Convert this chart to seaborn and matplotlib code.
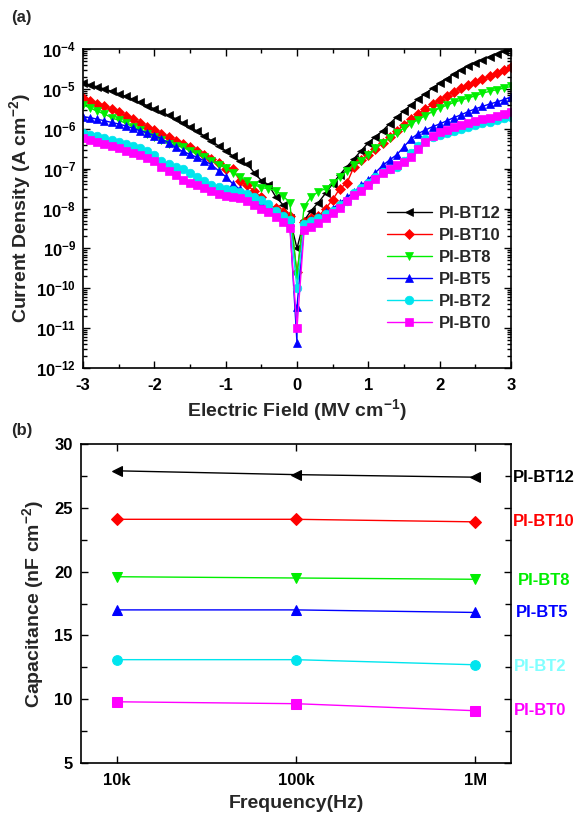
import numpy as np
import pandas as pd
import matplotlib
matplotlib.use("Agg")
import matplotlib.pyplot as plt
import seaborn as sns
from matplotlib.ticker import LogLocator, MultipleLocator, NullFormatter

# ---------------- data (a): J-E curves, log10 of current density ----------------
field = [-3.0, -2.9, -2.8, -2.7, -2.6, -2.5, -2.4, -2.3, -2.2, -2.1,
         -2.0, -1.9, -1.8, -1.7, -1.6, -1.5, -1.4, -1.3, -1.2, -1.1,
         -1.0, -0.9, -0.8, -0.7, -0.6, -0.5, -0.4, -0.3, -0.2, -0.1,
         0.0, 0.1, 0.2, 0.3, 0.4, 0.5, 0.6, 0.7, 0.8, 0.9,
         1.0, 1.1, 1.2, 1.3, 1.4, 1.5, 1.6, 1.7, 1.8, 1.9,
         2.0, 2.1, 2.2, 2.3, 2.4, 2.5, 2.6, 2.7, 2.8, 2.9, 3.0]

field_bt5 = [-3.0, -2.9, -2.8, -2.7, -2.6, -2.5, -2.4, -2.3, -2.2, -2.1,
             -2.0, -1.9, -1.8, -1.7, -1.6, -1.5, -1.4, -1.3, -1.2, -1.1,
             -1.0, -0.9, -0.8, -0.7, -0.6, -0.5, -0.4, -0.3, -0.2, -0.1,
             0.0, 0.0, 0.1, 0.2, 0.3, 0.4, 0.5, 0.6, 0.7, 0.8, 0.9,
             1.0, 1.1, 1.2, 1.3, 1.4, 1.5, 1.6, 1.7, 1.8, 1.9,
             2.0, 2.1, 2.2, 2.3, 2.4, 2.5, 2.6, 2.7, 2.8, 2.9, 3.0]

logj_bt12 = [-4.85, -4.90, -4.95, -5.00, -5.06, -5.12, -5.19, -5.26, -5.34, -5.42,
             -5.50, -5.58, -5.66, -5.75, -5.85, -5.95, -6.06, -6.18, -6.30, -6.43,
             -6.55, -6.68, -6.82, -6.88, -7.10, -7.30, -7.40, -7.70, -7.90, -8.25,
             -9.00, -8.30, -8.05, -7.85, -7.62, -7.38, -7.15, -6.95, -6.75, -6.55,
             -6.35, -6.20, -6.05, -5.87, -5.70, -5.55, -5.40, -5.25, -5.12, -4.98,
             -4.86, -4.74, -4.62, -4.52, -4.43, -4.34, -4.27, -4.19, -4.12, -4.06, -4.01]

logj_bt10 = [-5.23, -5.30, -5.37, -5.44, -5.51, -5.59, -5.67, -5.76, -5.86, -5.95,
             -6.04, -6.12, -6.21, -6.30, -6.38, -6.46, -6.56, -6.66, -6.76, -6.86,
             -7.00, -7.02, -7.30, -7.42, -7.56, -7.72, -7.95, -7.98, -8.08, -8.20,
             -9.60, -8.35, -8.25, -8.20, -8.00, -7.78, -7.50, -7.36, -6.95, -6.78,
             -6.65, -6.52, -6.35, -6.21, -6.06, -5.90, -5.76, -5.62, -5.50, -5.38,
             -5.28, -5.17, -5.07, -4.98, -4.90, -4.83, -4.76, -4.68, -4.60, -4.52, -4.44]

logj_bt8 = [-5.40, -5.48, -5.56, -5.63, -5.72, -5.79, -5.86, -5.95, -6.03, -6.12,
            -6.20, -6.28, -6.38, -6.42, -6.47, -6.55, -6.64, -6.72, -6.80, -6.90,
            -6.98, -7.10, -7.22, -7.30, -7.40, -7.48, -7.50, -7.55, -7.68, -7.85,
            -9.70, -7.95, -7.70, -7.58, -7.50, -7.36, -7.22, -7.05, -6.90, -6.80,
            -6.65, -6.48, -6.35, -6.22, -6.10, -5.98, -5.87, -5.77, -5.67, -5.57,
            -5.48, -5.41, -5.34, -5.28, -5.23, -5.17, -5.11, -5.06, -5.02, -4.98, -4.94]

logj_bt5 = [-5.70, -5.72, -5.76, -5.80, -5.84, -5.88, -5.93, -5.99, -6.05, -6.10,
            -6.17, -6.25, -6.35, -6.47, -6.57, -6.64, -6.72, -6.80, -6.90, -7.05,
            -7.20, -7.38, -7.52, -7.62, -7.72, -7.84, -7.95, -8.06, -8.16, -8.35,
            -11.37, -10.47, -8.45, -8.30, -8.22, -8.10, -8.00, -7.86, -7.72, -7.58, -7.42,
            -7.28, -7.10, -6.92, -6.78, -6.65, -6.45, -6.25, -6.12, -6.03, -5.95,
            -5.88, -5.80, -5.72, -5.65, -5.57, -5.50, -5.44, -5.38, -5.33, -5.27, -5.20]

logj_bt2 = [-6.10, -6.15, -6.19, -6.23, -6.27, -6.32, -6.37, -6.42, -6.48, -6.55,
            -6.65, -6.80, -6.88, -6.95, -7.02, -7.10, -7.20, -7.32, -7.40, -7.45,
            -7.50, -7.54, -7.58, -7.64, -7.70, -7.78, -7.88, -8.05, -8.18, -8.30,
            -10.00, -8.40, -8.32, -8.25, -8.15, -8.05, -7.92, -7.80, -7.62, -7.48,
            -7.36, -7.20, -7.08, -7.00, -6.96, -6.80, -6.60, -6.42, -6.26, -6.20,
            -6.16, -6.11, -6.06, -6.01, -5.96, -5.91, -5.86, -5.82, -5.78, -5.74, -5.70]

logj_bt0 = [-6.23, -6.28, -6.33, -6.38, -6.44, -6.49, -6.55, -6.61, -6.67, -6.73,
            -6.80, -6.95, -7.05, -7.15, -7.28, -7.35, -7.42, -7.48, -7.56, -7.64,
            -7.68, -7.71, -7.74, -7.82, -7.92, -8.02, -8.10, -8.22, -8.35, -8.50,
            -11.00, -8.55, -8.46, -8.36, -8.25, -8.12, -7.98, -7.80, -7.66, -7.55,
            -7.40, -7.25, -7.12, -7.02, -6.92, -6.84, -6.72, -6.52, -6.33, -6.18,
            -6.08, -6.02, -5.96, -5.91, -5.86, -5.81, -5.76, -5.72, -5.68, -5.63, -5.58]

# ---------------- data (b): capacitance vs frequency ----------------
freq_labels = ["10k", "100k", "1M"]
cap_bt12 = [27.9, 27.6, 27.4]
cap_bt10 = [24.1, 24.1, 23.9]
cap_bt8 = [19.6, 19.5, 19.4]
cap_bt5 = [17.0, 17.0, 16.8]
cap_bt2 = [13.1, 13.1, 12.7]
cap_bt0 = [9.8, 9.65, 9.1]

names = ["PI-BT12", "PI-BT10", "PI-BT8", "PI-BT5", "PI-BT2", "PI-BT0"]
colors = ["#000000", "#ff0000", "#00ee00", "#0000ff", "#00e5ee", "#ff00ff"]
label_colors = ["#000000", "#ff0000", "#00ee00", "#0000ff", "#80ffff", "#ff00ff"]
markers = ["<", "D", "v", "^", "o", "s"]

# ---------------- style ----------------
sns.set_theme(style="ticks")
plt.rcParams.update({
    "font.family": ["Liberation Sans", "DejaVu Sans"],
    "font.weight": "bold",
    "axes.labelweight": "bold",
    "axes.unicode_minus": False,
    "mathtext.fontset": "custom",
    "mathtext.rm": "Liberation Sans:bold",
    "mathtext.it": "Liberation Sans:bold",
    "mathtext.bf": "Liberation Sans:bold",
    "mathtext.default": "regular",
    "axes.linewidth": 1.2,
    "axes.edgecolor": "black",
    "xtick.color": "black",
    "ytick.color": "black",
})

fig = plt.figure(figsize=(5.77, 8.18), dpi=100)

# ---------------- panel (a) ----------------
ax1 = fig.add_axes([0.1438, 0.5501, 0.7418, 0.390])
series_a = [
    (names[0], field, logj_bt12),
    (names[1], field, logj_bt10),
    (names[2], field, logj_bt8),
    (names[3], field_bt5, logj_bt5),
    (names[4], field, logj_bt2),
    (names[5], field, logj_bt0),
]
for (name, xs, lj), c, m in zip(series_a, colors, markers):
    df = pd.DataFrame({"E": xs, "J": np.power(10.0, lj)})
    ms = 5.2 if m == "D" else 6.2
    sns.lineplot(data=df, x="E", y="J", ax=ax1, color=c, marker=m,
                 markersize=ms, markeredgecolor=c, markeredgewidth=0.5,
                 linewidth=1.0, sort=False, estimator=None, label=name)

ax1.set_yscale("log")
ax1.set_xlim(-3, 3)
ax1.set_ylim(1e-12, 1e-4)
ax1.yaxis.set_major_locator(LogLocator(base=10, numticks=20))
ax1.yaxis.set_minor_locator(LogLocator(base=10, subs=np.arange(2, 10), numticks=100))
ax1.yaxis.set_minor_formatter(NullFormatter())
ax1.xaxis.set_major_locator(MultipleLocator(1))
ax1.xaxis.set_minor_locator(MultipleLocator(0.5))
ax1.tick_params(axis="both", which="both", direction="in", top=True, right=True,
                labelsize=12, width=1.0)
ax1.tick_params(which="major", length=5)
ax1.tick_params(which="minor", length=3)
ax1.tick_params(axis="x", pad=7)
ax1.tick_params(axis="y", pad=5)
ax1.set_xlabel("Electric Field (MV cm$^{-1}$)", fontsize=14, labelpad=3)
ax1.set_ylabel("Current Density (A cm$^{-2}$)", fontsize=14, labelpad=2)
leg = ax1.legend(loc="upper left", bbox_to_anchor=(0.675, 0.555), frameon=False,
                 handlelength=2.7, labelspacing=0.42, handletextpad=0.4,
                 prop={"weight": "bold", "size": 12})
fig.text(0.02, 0.978, "(a)", fontsize=12, fontweight="bold", va="center")

# ---------------- panel (b) ----------------
ax2 = fig.add_axes([0.1404, 0.0672, 0.7452, 0.390])
series_b = [cap_bt12, cap_bt10, cap_bt8, cap_bt5, cap_bt2, cap_bt0]
for vals, c, m in zip(series_b, colors, markers):
    ms = 6.0 if m == "D" else 7.0
    sns.lineplot(x=freq_labels, y=vals, ax=ax2, color=c, marker=m,
                 markersize=ms, markeredgecolor=c, linewidth=1.0,
                 estimator=None, sort=False)

ax2.set_xlim(-0.2, 2.2)
ax2.set_ylim(5, 30)
ax2.yaxis.set_major_locator(MultipleLocator(5))
ax2.yaxis.set_minor_locator(MultipleLocator(2.5))
ax2.tick_params(axis="both", which="both", direction="in", top=True, right=True,
                labelsize=12, width=1.0)
ax2.tick_params(which="major", length=5)
ax2.tick_params(which="minor", length=4)
ax2.tick_params(axis="x", which="minor", bottom=False, top=False)
ax2.tick_params(axis="x", pad=7)
ax2.tick_params(axis="y", pad=6)
ax2.set_xlabel("Frequency(Hz)", fontsize=14, labelpad=5)
ax2.set_ylabel("Capacitance (nF cm$^{-2}$)", fontsize=14, labelpad=6)

label_y = [27.4, 23.9, 19.3, 16.8, 12.55, 9.15]
label_x = [1.005, 1.004, 1.015, 1.011, 1.006, 1.006]
for name, c, ly, lx in zip(names, label_colors, label_y, label_x):
    ax2.text(lx, ly, name, transform=ax2.get_yaxis_transform(), color=c,
             fontsize=12, fontweight="bold", va="center", ha="left", clip_on=False)
fig.text(0.02, 0.474, "(b)", fontsize=12, fontweight="bold", va="center")

fig.savefig("out.png", dpi=100)
